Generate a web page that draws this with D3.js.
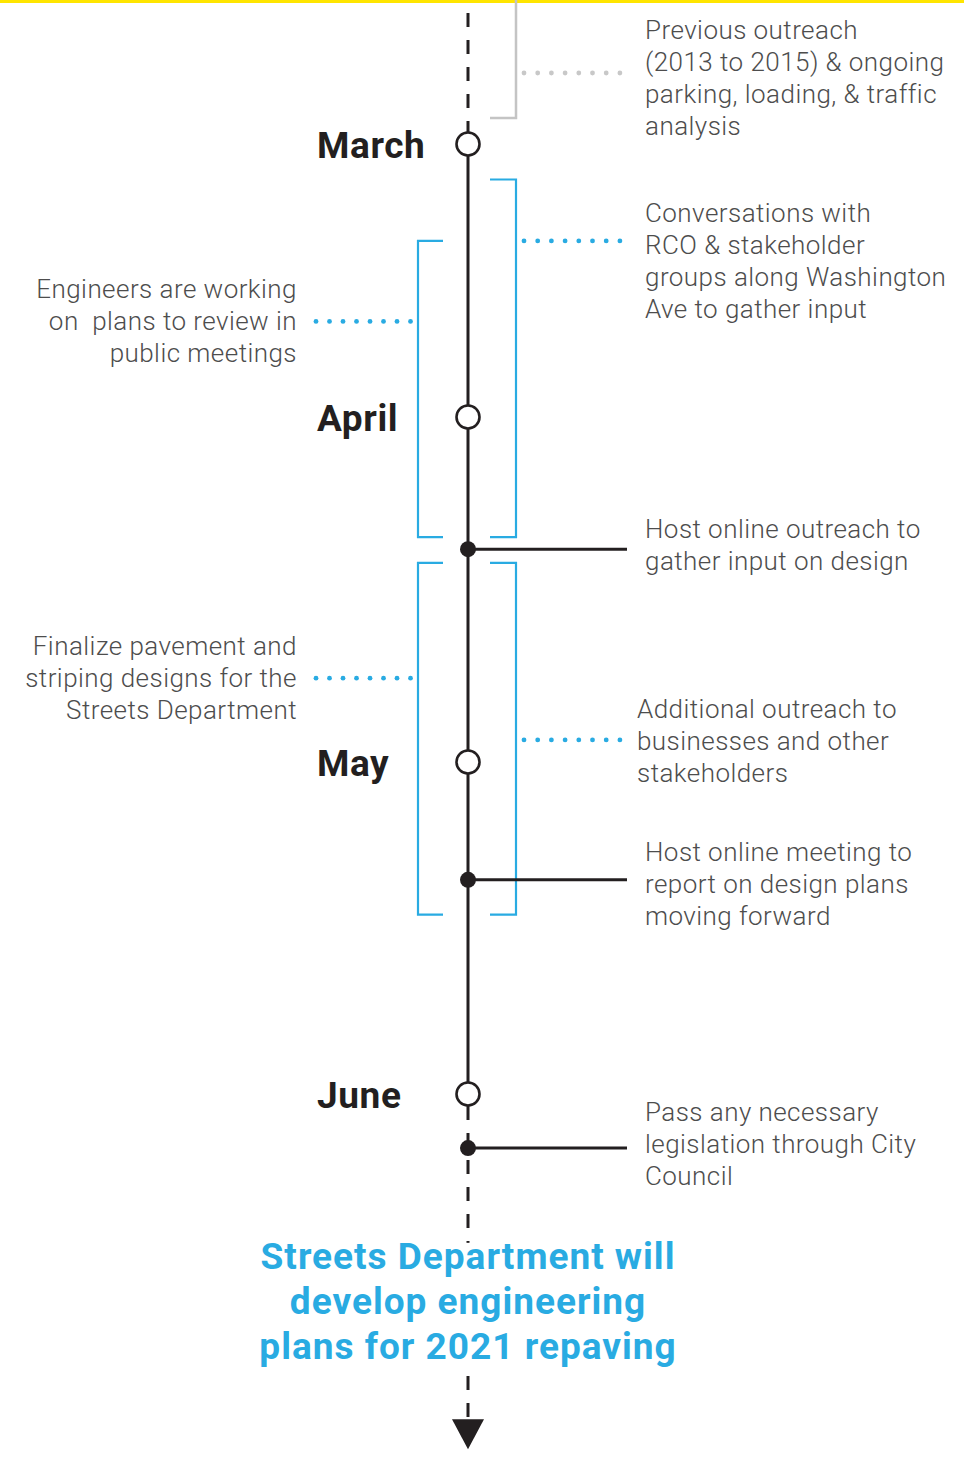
<!DOCTYPE html>
<html>
<head>
<meta charset="utf-8">
<script src="https://cdn.jsdelivr.net/npm/d3@7"></script>
<style>
  body { margin: 0; background: #fff; }
  svg { display: block; }
  .note { font-family: Roboto, "Open Sans", sans-serif; font-weight: 300; font-size: 26px; fill: #4d4d4d; letter-spacing: 0.45px; white-space: pre; }
  .month { font-family: Roboto, sans-serif; font-weight: 700; font-size: 37px; fill: #231f20; letter-spacing: 0.6px; }
  .final { font-family: Roboto, sans-serif; font-weight: 700; font-size: 37px; fill: #29abe2; letter-spacing: 1px; }
</style>
</head>
<body>
<div id="chart"></div>
<script>
// month markers, in timeline units (0 = March)
const months = ["March", "April", "May", "June"]
const monthAt = [0, 1, 2, 3]

// milestones with a solid tick to the right
const eventText = [
  ["Host online outreach to", "gather input on design"],
  ["Host online meeting to", "report on design plans", "moving forward"],
  ["Pass any necessary", "legislation through City", "Council"]
]
const eventAt = [1.383, 2.355, 3.163]

// bracketed periods with dotted leaders
const spanText = [
  ["Previous outreach", "(2013 to 2015) & ongoing", "parking, loading, & traffic", "analysis"],
  ["Conversations with", "RCO & stakeholder", "groups along Washington", "Ave to gather input"],
  ["Engineers are working", "on  plans to review in", "public meetings"],
  ["Finalize pavement and", "striping designs for the", "Streets Department"],
  ["Additional outreach to", "businesses and other", "stakeholders"]
]
const spanSide = ["right", "right", "left", "left", "right"]
const spanStart = [-0.53, 0.13, 0.355, 1.423, 1.423]
const spanEnd = [-0.095, 1.348, 1.348, 2.46, 2.46]
const spanDotAt = [-0.26, 0.355, 0.65, 1.757, 1.936]
const spanLabelAt = [-0.24, 0.43, 0.65, 1.757, 1.94]
const spanPast = [true, false, false, false, false]

const closing = ["Streets Department will", "develop engineering", "plans for 2021 repaving"]
const closingAt = 3.623
const lineStart = -0.48, lineEnd = 3.98, arrowTip = 4.07

let width = 964, height = 1458
let x0 = 468

let svg = d3.select("#chart")
    .append('svg')
    .attr('width', width)
    .attr('height', height)

const y = d3.scaleLinear()
    .domain(monthAt)
    .range([144, 417, 762, 1094])

const ink = "#231f20", blue = "#29abe2", grey = "#c4c4c4"

// yellow rule across the top
svg.append('rect')
    .attr('x', 0).attr('y', 0)
    .attr('width', width).attr('height', 3)
    .attr('fill', '#ffe500')

// timeline: dashed before March and after June, solid between
const lineG = svg.append('g').attr('stroke', ink).attr('stroke-width', 3)
lineG.append('line')
    .attr('x1', x0).attr('x2', x0)
    .attr('y1', y(lineStart)).attr('y2', y(0))
    .attr('stroke-dasharray', '14 13')
lineG.append('line')
    .attr('x1', x0).attr('x2', x0)
    .attr('y1', y(0)).attr('y2', y(3))
lineG.append('line')
    .attr('x1', x0).attr('x2', x0)
    .attr('y1', y(3) + 12).attr('y2', y(lineEnd))
    .attr('stroke-dasharray', '14 13')

svg.append('path')
    .attr('d', d3.line()([[x0 - 16, y(lineEnd)], [x0 + 16, y(lineEnd)], [x0, y(arrowTip)]]) + 'Z')
    .attr('fill', ink)

// brackets
const brackets = svg.append('g').attr('fill', 'none')
spanText.forEach((t, i) => {
  let right = spanSide[i] === 'right'
  let bx = right ? 516 : 418
  let tip = right ? bx - 26 : bx + 25
  let col = spanPast[i] ? grey : blue
  let pts = [[tip, y(spanStart[i])], [bx, y(spanStart[i])], [bx, y(spanEnd[i])], [tip, y(spanEnd[i])]]
  if (spanPast[i]) pts = pts.slice(1)
  brackets.append('path')
      .attr('d', d3.line()(pts))
      .attr('stroke', col)
      .attr('stroke-width', spanPast[i] ? 2.5 : 2.2)

  // dotted leader
  let dx = right ? d3.range(8).map(k => 524 + k * 13.7) : d3.range(8).map(k => 316 + k * 13.5)
  svg.append('g')
    .selectAll('circle')
    .data(dx)
    .enter()
    .append('circle')
    .attr('cx', d => d)
    .attr('cy', y(spanDotAt[i]))
    .attr('r', 2.4)
    .attr('fill', spanPast[i] ? '#c8c8c8' : blue)

  // label
  let tx = right ? (i === 4 ? 637 : 645) : 297
  let cy = y(spanLabelAt[i])
  let txt = svg.append('text')
      .attr('class', 'note')
      .attr('text-anchor', right ? 'start' : 'end')
  txt.selectAll('tspan')
    .data(t)
    .enter()
    .append('tspan')
    .attr('x', tx)
    .attr('y', (d, k) => cy + (k - (t.length - 1) / 2) * 32 + 9)
    .text(d => d)
})

// event ticks
eventAt.forEach((e, i) => {
  svg.append('line')
      .attr('x1', x0).attr('x2', 627)
      .attr('y1', y(e)).attr('y2', y(e))
      .attr('stroke', ink).attr('stroke-width', 3)
  svg.append('circle')
      .attr('cx', x0).attr('cy', y(e)).attr('r', 8)
      .attr('fill', ink)
  let t = eventText[i]
  let cy = y(e) + (i === 1 ? 4 : -4)
  svg.append('text')
      .attr('class', 'note')
      .selectAll('tspan')
      .data(t)
      .enter()
      .append('tspan')
      .attr('x', 645)
      .attr('y', (d, k) => cy + (k - (t.length - 1) / 2) * 32 + 9)
      .text(d => d)
})

// month markers
svg.append('g')
  .selectAll('circle')
  .data(monthAt)
  .enter()
  .append('circle')
  .attr('cx', x0)
  .attr('cy', d => y(d))
  .attr('r', 11.5)
  .attr('fill', '#fff')
  .attr('stroke', ink)
  .attr('stroke-width', 2.6)

svg.append('g')
  .selectAll('text')
  .data(months)
  .enter()
  .append('text')
  .attr('class', 'month')
  .attr('x', 317)
  .attr('y', (d, i) => y(monthAt[i]) + 14)
  .text(d => d)

// closing statement, with the dashed line knocked out behind it
svg.append('rect')
    .attr('x', 250).attr('width', 440)
    .attr('y', y(closingAt) - 58).attr('height', 129)
    .attr('fill', '#fff')

svg.append('text')
    .attr('class', 'final')
    .attr('text-anchor', 'middle')
    .selectAll('tspan')
    .data(closing)
    .enter()
    .append('tspan')
    .attr('x', x0)
    .attr('y', (d, k) => y(closingAt) + (k - 1) * 45 + 13)
    .text(d => d)
</script>
</body>
</html>
